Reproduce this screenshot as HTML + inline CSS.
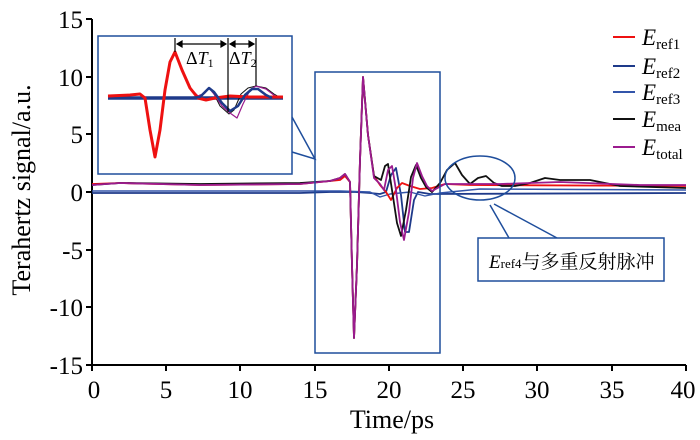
<!DOCTYPE html>
<html><head><meta charset="utf-8"><style>
body{margin:0;background:#fff}
svg{display:block;font-family:"Liberation Serif","Noto Serif CJK SC",serif}
</style></head><body>
<svg width="700" height="440" viewBox="0 0 700 440" xmlns="http://www.w3.org/2000/svg">
<g stroke="#000" stroke-width="2" fill="none">
<path d="M92,19 V365 H686"/>
<path d="M86,19H92M86,77H92M86,134H92M86,192H92M86,250H92M86,307H92M86,365H92"/>
<path d="M92,365v6M166,365v6M240,365v6M315,365v6M389,365v6M463,365v6M537,365v6M612,365v6M686,365v6"/>
</g>
<g font-size="25" text-anchor="end">
<text x="83" y="28">15</text><text x="83" y="86">10</text><text x="83" y="143">5</text><text x="83" y="201">0</text>
<text x="83" y="259">-5</text><text x="83" y="316">-10</text><text x="83" y="374">-15</text>
</g>
<g font-size="25" text-anchor="middle">
<text x="94" y="398">0</text><text x="166" y="398">5</text><text x="240" y="398">10</text><text x="315" y="398">15</text>
<text x="389" y="398">20</text><text x="463" y="398">25</text><text x="537" y="398">30</text><text x="612" y="398">35</text><text x="683" y="398">40</text>
<text x="392" y="428" font-size="26">Time/ps</text>
<text transform="translate(30,190) rotate(-90)" font-size="26">Terahertz signal/a.u.</text>
</g>
<g fill="none" stroke-width="1.8" stroke-linejoin="round">
<path stroke="#1e3a8a" d="M92,193 L300,193 L330,192 L355,192 L370,193 L380,194 L386,192 L391,175 L396,168 L401,195 L405,232 L409,232 L414,200 L418,192 L430,194 L686,193"/>
<path stroke="#3355aa" stroke-width="1.4" d="M92,191 L340,191 L370,192 L380,197 L390,194 L410,192 L425,196 L440,193 L480,189 L686,190"/>
<path stroke="#e11" d="M92,184 L120,183 L200,185 L300,184 L330,181 L340,180 L345,176 L350,182 L352,265 L354,338 L357,265 L360,160 L363,77 L368,135 L374,176 L380,185 L386,192 L391,200 L397,188 L402,183 L410,186 L420,189 L432,188 L445,184 L470,185 L686,186"/>
<path stroke="#111" d="M92,185 L120,183 L200,184 L300,183 L330,181 L340,178 L345,174 L350,182 L352,265 L354,338 L357,265 L360,160 L363,77 L368,135 L374,176 L381,180 L385,166 L388,164 L392,190 L397,223 L401,236 L406,210 L411,177 L416,165 L421,178 L426,187 L432,192 L440,183 L447,170 L455,163 L462,175 L470,184 L478,178 L486,176 L494,183 L502,186 L515,186 L530,183 L545,178 L560,180 L590,180 L620,186 L686,188"/>
<path stroke="#9b1b8e" d="M92,185 L120,183 L200,185 L300,184 L330,181 L340,178 L345,174 L350,182 L352,265 L354,338 L357,265 L360,160 L363,77 L368,135 L374,178 L380,184 L384,190 L388,170 L392,166 L396,190 L400,222 L404,240 L409,212 L413,178 L417,163 L422,176 L427,186 L432,191 L445,184 L500,184 L560,182 L640,185 L686,185"/>
</g>
<g fill="none" stroke="#1f4e9c" stroke-width="1.5">
<rect x="315" y="72" width="125" height="281"/>
<rect x="98" y="36" width="194" height="138" fill="#fff"/>
<path d="M292,117 L315,159 L292,152"/>
<ellipse cx="480" cy="178" rx="35" ry="22"/>
<path d="M490,205 L509,238 M494,204 L557,238"/>
<rect x="478" y="238" width="186" height="43" fill="#fff"/>
</g>
<text x="489" y="268" font-size="19"><tspan font-style="italic">E</tspan><tspan font-size="13">ref4</tspan>与多重反射脉冲</text>
<g fill="none" stroke-width="2.2" stroke-linejoin="round">
<path stroke="#1e3a8a" stroke-width="3.5" d="M108,98 L283,98"/>
<path stroke="#111" stroke-width="1" d="M108,97 L140,94 L145,98 L150,130 L155,157 L160,130 L165,90 L170,62 L175,52 L182,70 L190,88 L198,96 L205,93 L209,88 L214,94 L220,106 L229,114 L234,110 L241,94 L248,88 L256,86 L266,88 L274,94 L281,98"/>
<path stroke="#9b1b8e" stroke-width="1.2" d="M108,97 L140,94 L145,98 L150,130 L155,157 L160,130 L165,90 L170,62 L175,52 L182,70 L190,88 L198,96 L205,93 L209,88 L214,94 L222,106 L230,113 L237,118 L243,104 L250,90 L256,86 L266,89 L275,96 L281,98"/>
<path stroke="#e11" stroke-width="3" d="M108,96 L130,95 L140,94 L145,98 L150,130 L155,157 L160,130 L165,90 L170,62 L175,52 L182,70 L190,88 L198,98 L206,100 L215,98 L230,96 L250,97 L283,97"/>
<path stroke="#1e3a8a" stroke-width="2.5" d="M190,98 L200,97 L205,92 L209,88 L214,92 L222,103 L230,111 L238,106 L245,95 L252,89 L258,89 L266,95 L272,98"/>
</g>
<g stroke="#000" stroke-width="1.2" fill="#000">
<path d="M175,38 V52 M228,38 V112 M256,38 V86 M179,44 H224 M232,44 H252" fill="none"/>
<path d="M177,44 l5,-3 v6z M226,44 l-5,-3 v6z M230,44 l5,-3 v6z M254,44 l-5,-3 v6z"/>
</g>
<text x="186" y="64" font-size="18">Δ<tspan font-style="italic">T</tspan><tspan font-size="12" dy="3">1</tspan></text>
<text x="229" y="64" font-size="18">Δ<tspan font-style="italic">T</tspan><tspan font-size="12" dy="3">2</tspan></text>
<g stroke-width="2">
<path stroke="#e11" d="M613,37H635"/><path stroke="#1e3a8a" d="M613,66H635"/><path stroke="#3355aa" d="M613,92H635"/><path stroke="#111" d="M613,119H635"/><path stroke="#9b1b8e" d="M613,147H635"/>
</g>
<g font-size="23">
<text x="642" y="45"><tspan font-style="italic">E</tspan><tspan font-size="15" dy="4">ref1</tspan></text>
<text x="642" y="74"><tspan font-style="italic">E</tspan><tspan font-size="15" dy="4">ref2</tspan></text>
<text x="642" y="100"><tspan font-style="italic">E</tspan><tspan font-size="15" dy="4">ref3</tspan></text>
<text x="642" y="127"><tspan font-style="italic">E</tspan><tspan font-size="15" dy="4">mea</tspan></text>
<text x="642" y="155"><tspan font-style="italic">E</tspan><tspan font-size="15" dy="4">total</tspan></text>
</g>
</svg>
</body></html>
